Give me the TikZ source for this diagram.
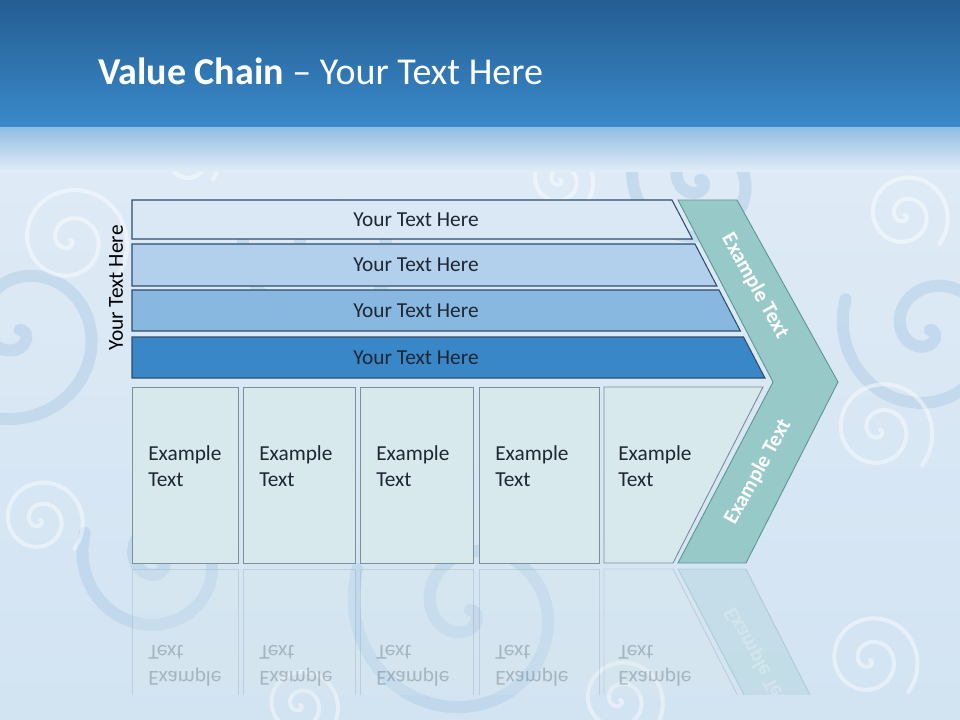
\documentclass[tikz,border=0pt]{standalone}
\usepackage{fontspec}
\setmainfont{Carlito}
\definecolor{headtop}{HTML}{245D92}
\definecolor{headbot}{HTML}{3A8ACB}
\definecolor{bgtop}{HTML}{E2EDF7}
\definecolor{bgbot}{HTML}{D2E3F2}
\definecolor{swirldark}{HTML}{B6D0E8}
\definecolor{barA}{HTML}{DAE8F5}
\definecolor{barB}{HTML}{B2D0EB}
\definecolor{barC}{HTML}{88B7E0}
\definecolor{barD}{HTML}{3A87C8}
\definecolor{barline}{HTML}{2E4D6E}
\definecolor{boxfill}{HTML}{D7E9EC}
\definecolor{boxline}{HTML}{7D9096}
\definecolor{chevfill}{HTML}{97C9C8}
\definecolor{chevline}{HTML}{5E9897}
\definecolor{textdark}{HTML}{1E2733}

\begin{document}
\begin{tikzpicture}[x=0.75pt,y=-0.75pt,
    barshape/.style={draw=barline,line width=0.8pt},
    boxshape/.style={draw=boxline,fill=boxfill,line width=0.7pt},
    chevshape/.style={draw=chevline,fill=chevfill,line width=0.7pt},
    bartext/.style={font=\fontsize{16}{19}\selectfont,text=textdark,inner sep=0pt},
    boxtext/.style={font=\fontsize{16}{19.5}\selectfont,text=textdark,align=left,anchor=north west,inner sep=0pt},
    chevtext/.style={font=\fontsize{16}{19}\selectfont\bfseries,text=white,inner sep=0pt},
    swirl/.style={draw=white,line width=3pt,opacity=0.45,line cap=round},
    darkswirl/.style={draw=swirldark,line width=9pt,opacity=0.6,line cap=round}]
  \useasboundingbox (0,0) rectangle (960,720);
  \shade[top color=bgtop,bottom color=bgbot] (0,0) rectangle (960,720);

  \foreach \cx/\cy/\r in {20/330/110,930/330/90,470/610/120,160/560/80,700/180/70,330/250/90} {
    \draw[darkswirl] plot[domain=0:560,samples=50,smooth,variable=\t]
      ({\cx+\r*(\t/560)*cos(\t)},{\cy+\r*(\t/560)*sin(\t)});
  }
  \foreach \cx/\cy/\r in {70/240/60,880/430/55,870/660/50,905/215/45,300/705/40,40/520/45,560/180/35,190/160/30,620/700/45} {
    \draw[swirl] plot[domain=0:760,samples=60,smooth,variable=\t]
      ({\cx+\r*(\t/760)*cos(\t)},{\cy+\r*(\t/760)*sin(\t)});
  }

  \shade[top color=headtop,bottom color=headbot] (0,0) rectangle (960,128);
  \shade[top color=headbot!55!white,bottom color=bgtop] (0,128) rectangle (960,172);
  \node[anchor=base west,inner sep=0pt,text=white,font=\fontsize{28.5}{34}\selectfont] (title) at (98,85)
    {\textbf{Value Chain} – Your Text Here};

  \foreach \i/\ya/\yb/\col in {1/200/239/barA,2/244/286/barB,3/290/331/barC,4/337/378/barD} {
    \draw[barshape,fill=\col] (132,\ya) -- ({672+(\ya-200)*0.522},\ya)
      -- ({672+(\yb-200)*0.522},\yb) -- (132,\yb) -- cycle;
    \node[bartext] (bar\i) at (416,{(\ya+\yb)/2}) {Your Text Here};
  }
  \node[bartext,text=black,rotate=90] (side) at (116,288) {Your Text Here};

  \foreach \i/\xa/\xb in {1/132/238,2/243/355,3/360/473,4/479/599} {
    \draw[boxshape] (\xa,387) rectangle (\xb,563);
    \node[boxtext] (box\i) at (\xa+16,445) {Example\\Text};
  }
  \draw[boxshape] (604,387) -- (763,387) -- (673,563) -- (604,563) -- cycle;
  \node[boxtext] (box5) at (618,445) {Example\\Text};

  \draw[chevshape] (678,200) -- (737,200) -- (838,382) -- (746,563) -- (678,563) -- (773,382) -- cycle;
  \node[chevtext,rotate=-61] (chevup) at (755,286) {Example Text};
  \node[chevtext,rotate=61] (chevdown) at (758,472) {Example Text};

  \begin{scope}
    \clip (0,566) rectangle (960,694);
    \begin{scope}[yshift=-849pt,yscale=-1,transform shape,opacity=0.25]
      \foreach \i/\xa/\xb in {1/132/238,2/243/355,3/360/473,4/479/599} {
        \draw[boxshape] (\xa,387) rectangle (\xb,563);
        \node[boxtext] (mirror\i) at (\xa+16,445) {Example\\Text};
      }
      \draw[boxshape] (604,387) -- (763,387) -- (673,563) -- (604,563) -- cycle;
      \node[boxtext] (mirror5) at (618,445) {Example\\Text};
      \draw[chevshape] (678,563) -- (746,563) -- (838,382) -- (773,382) -- cycle;
      \node[chevtext,rotate=61] (mirrorchev) at (758,472) {Example Text};
    \end{scope}
  \end{scope}
\end{tikzpicture}
\end{document}
